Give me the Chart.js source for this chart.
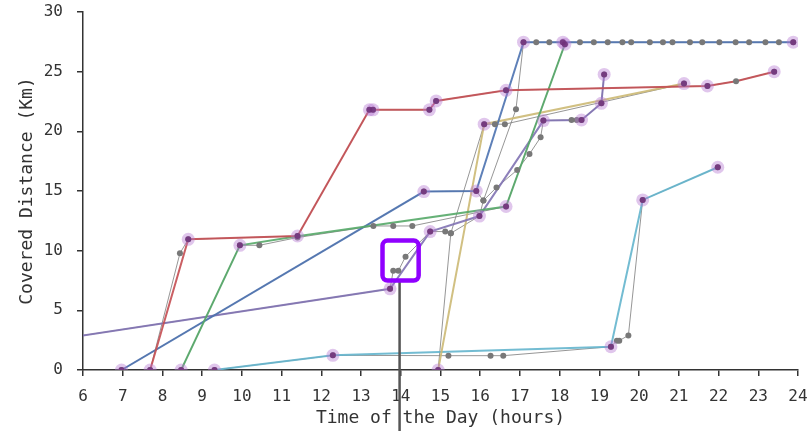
<!DOCTYPE html>
<html><head><meta charset="utf-8">
<script src="https://cdn.jsdelivr.net/npm/chart.js@4"></script>
<style>html,body{margin:0;padding:0;background:#fff;}#wrap{width:812px;height:431px;}</style>
</head><body><div id="wrap"><canvas id="c" width="812" height="431"></canvas></div>
<script>
// ---- tick labels ----
const xTickValues = [6,7,8,9,10,11,12,13,14,15,16,17,18,19,20,21,22,23,24];
const yTickValues = [0,5,10,15,20,25,30];
const xTitle = 'Time of the Day (hours)';
const yTitle = 'Covered Distance (Km)';

// ---- coloured trip lines (hours, km) ----
const redX = [7.69, 8.65, 11.40, 13.21, 13.30, 14.72, 14.89, 16.65, 21.72, 22.44, 23.40];
const redY = [0, 10.95, 11.23, 21.80, 21.80, 21.80, 22.55, 23.44, 23.80, 24.20, 25.00];
const greenX = [8.47, 9.95, 11.40, 16.65, 18.13];
const greenY = [0, 10.45, 11.20, 13.70, 27.30];
const blueX = [6.97, 14.58, 15.90, 17.09, 23.88];
const blueY = [0, 14.95, 15.00, 27.47, 27.47];
const purpleX = [0.27, 13.73, 14.74, 15.98, 17.59, 18.55, 19.05, 19.12];
const purpleY = [0, 6.80, 11.60, 12.90, 20.90, 20.95, 22.35, 24.77];
const yellowX = [14.94, 16.10, 21.13];
const yellowY = [0, 20.60, 24.00];
const cyanX = [9.31, 12.29, 19.29, 20.09, 21.98];
const cyanY = [0, 1.23, 1.95, 14.25, 16.99];

// ---- raw (grey) traces ----
const redRawX = [7.69, 8.44, 8.65, 11.40, 13.21, 13.30, 14.72, 14.89, 16.65, 21.72, 22.44, 23.40];
const redRawY = [0, 9.78, 10.95, 11.23, 21.80, 21.80, 21.80, 22.55, 23.44, 23.80, 24.20, 25.00];
const greenRawX = [8.47, 9.95, 10.44, 11.40, 13.31, 13.81, 14.29, 16.65, 18.13];
const greenRawY = [0, 10.45, 10.45, 11.10, 12.07, 12.07, 12.07, 13.70, 27.30];
const blueRawX = [6.97, 14.58, 15.90, 16.08, 16.90, 17.09, 17.41, 17.74, 18.08, 18.51, 18.86, 19.21, 19.58, 19.80, 20.27, 20.60, 20.84, 21.28, 21.59, 22.02, 22.43, 22.77, 23.18, 23.52, 23.88];
const blueRawY = [0, 14.95, 15.00, 14.20, 21.85, 27.47, 27.47, 27.47, 27.47, 27.47, 27.47, 27.47, 27.47, 27.47, 27.47, 27.47, 27.47, 27.47, 27.47, 27.47, 27.47, 27.47, 27.47, 27.47, 27.47];
const purpleRawX = [0.27, 13.73, 13.81, 13.94, 14.12, 14.74, 15.12, 15.26, 15.98, 16.08, 16.41, 16.93, 17.24, 17.52, 17.59, 18.30, 18.43, 18.55, 19.05, 19.12];
const purpleRawY = [0, 6.80, 8.32, 8.32, 9.50, 11.60, 11.60, 11.46, 12.90, 14.20, 15.30, 16.76, 18.10, 19.50, 20.90, 20.95, 20.95, 20.95, 22.35, 24.77];
const yellowRawX = [14.94, 15.26, 16.10, 16.37, 16.62, 21.13];
const yellowRawY = [0, 11.46, 20.60, 20.60, 20.60, 24.00];
const cyanRawX = [9.31, 12.29, 15.20, 16.26, 16.58, 19.29, 19.44, 19.50, 19.73, 20.09, 21.98];
const cyanRawY = [0, 1.23, 1.20, 1.20, 1.20, 1.95, 2.46, 2.46, 2.90, 14.25, 16.99];

// ---- highlighted (stop) points ----
const stopX = [7.69, 8.65, 11.40, 13.21, 13.30, 14.72, 14.89, 16.65, 21.72, 23.40,
               8.47, 9.95, 16.65, 18.13,
               6.97, 14.58, 15.90, 17.09, 18.08, 23.88,
               13.73, 14.74, 15.98, 17.59, 18.55, 19.05, 19.12,
               14.94, 16.10, 21.13,
               9.31, 12.29, 19.29, 20.09, 21.98];
const stopY = [0, 10.95, 11.23, 21.80, 21.80, 21.80, 22.55, 23.44, 23.80, 25.00,
               0, 10.45, 13.70, 27.30,
               0, 14.95, 15.00, 27.47, 27.47, 27.47,
               6.80, 11.60, 12.90, 20.90, 20.95, 22.35, 24.77,
               0, 20.60, 24.00,
               0, 1.23, 1.95, 14.25, 16.99];

// ---- highlight annotation (data units) ----
const boxX = [13.54, 14.45];
const boxY = [7.50, 10.85];
const markerX = 13.97;

const pts = (xs, ys) => xs.map((x, i) => ({x: x, y: ys[i]}));
const lineDS = (xs, ys, color) => ({data: pts(xs, ys), showLine: true, borderColor: color, borderWidth: 2,
  pointRadius: 0, fill: false, order: 5});
const rawDS = (xs, ys) => ({data: pts(xs, ys), showLine: true, borderColor: 'rgba(115,115,115,0.75)', borderWidth: 1,
  pointRadius: 0, fill: false, order: 10});

const raws = [[redRawX, redRawY],[greenRawX, greenRawY],[blueRawX, blueRawY],[purpleRawX, purpleRawY],[yellowRawX, yellowRawY],[cyanRawX, cyanRawY]];
let grayDots = [];
raws.forEach(r => { grayDots = grayDots.concat(pts(r[0], r[1])); });

const datasets = [
  ...raws.map(r => rawDS(r[0], r[1])),
  lineDS(redX, redY, 'rgba(196,78,82,0.9)'),
  lineDS(greenX, greenY, 'rgba(85,168,104,0.9)'),
  lineDS(blueX, blueY, 'rgba(76,114,176,0.9)'),
  lineDS(purpleX, purpleY, 'rgba(129,114,178,0.9)'),
  lineDS(yellowX, yellowY, 'rgba(204,185,116,0.9)'),
  lineDS(cyanX, cyanY, 'rgba(100,181,205,0.9)'),
  {data: grayDots, showLine: false, pointRadius: 3, backgroundColor: '#787878', borderWidth: 0, order: 4},
  {data: pts(stopX, stopY), showLine: false, pointRadius: 6.5, backgroundColor: 'rgba(180,120,210,0.42)', borderWidth: 0, order: 2, clip: 0},
  {data: pts(stopX, stopY), showLine: false, pointRadius: 3, backgroundColor: 'rgba(112,48,122,0.85)', borderWidth: 0, order: 1, clip: 0}
];

const annot = {
  id: 'annot',
  afterDraw(chart) {
    const ctx = chart.ctx, xs = chart.scales.x, ys = chart.scales.y;
    const l = xs.getPixelForValue(boxX[0]), r = xs.getPixelForValue(boxX[1]);
    const t = ys.getPixelForValue(boxY[1]), b = ys.getPixelForValue(boxY[0]);
    const mx = xs.getPixelForValue(markerX);
    ctx.save();
    ctx.strokeStyle = '#555';
    ctx.lineWidth = 2.5;
    ctx.beginPath(); ctx.moveTo(mx, b); ctx.lineTo(mx, chart.height); ctx.stroke();
    ctx.strokeStyle = '#9000ff';
    ctx.lineWidth = 4.5;
    ctx.beginPath();
    if (ctx.roundRect) ctx.roundRect(l, t, r - l, b - t, 5); else ctx.rect(l, t, r - l, b - t);
    ctx.stroke();
    ctx.restore();
  }
};

const FONT = "'DejaVu Sans Mono', monospace";
new Chart(document.getElementById('c'), {
  type: 'scatter',
  data: {datasets},
  plugins: [annot],
  options: {
    responsive: false, animation: false, events: [], devicePixelRatio: 1,
    layout: {autoPadding: false, padding: {top: 12, right: 14, left: 0, bottom: 0}},
    plugins: {legend: {display: false}, tooltip: {enabled: false}},
    scales: {
      x: {
        type: 'linear', min: 6, max: 24,
        afterBuildTicks: s => { s.ticks = xTickValues.map(v => ({value: v})); },
        afterFit: s => { s.height = 61; s.paddingLeft = 0; s.paddingRight = 0; },
        grid: {drawOnChartArea: false, drawTicks: true, tickLength: 6, color: '#333', lineWidth: 1.5},
        border: {display: true, color: '#333', width: 1.5},
        ticks: {color: '#333', padding: 11, font: {family: FONT, size: 16}, maxRotation: 0, autoSkip: false},
        title: {display: true, text: xTitle, color: '#333', font: {family: FONT, size: 18}, padding: {top: 0, bottom: 2}}
      },
      y: {
        type: 'linear', min: 0, max: 30,
        afterBuildTicks: s => { s.ticks = yTickValues.map(v => ({value: v})); },
        afterFit: s => { s.width = 83; s.paddingTop = 0; s.paddingBottom = 0; },
        grid: {drawOnChartArea: false, drawTicks: true, tickLength: 6, color: '#333', lineWidth: 1.5},
        border: {display: true, color: '#333', width: 1.5},
        ticks: {color: '#333', padding: 14, font: {family: FONT, size: 16}, autoSkip: false},
        title: {display: true, text: yTitle, color: '#333', font: {family: FONT, size: 18}, padding: {top: 17, bottom: 0}}
      }
    }
  }
});
</script>
</body></html>
